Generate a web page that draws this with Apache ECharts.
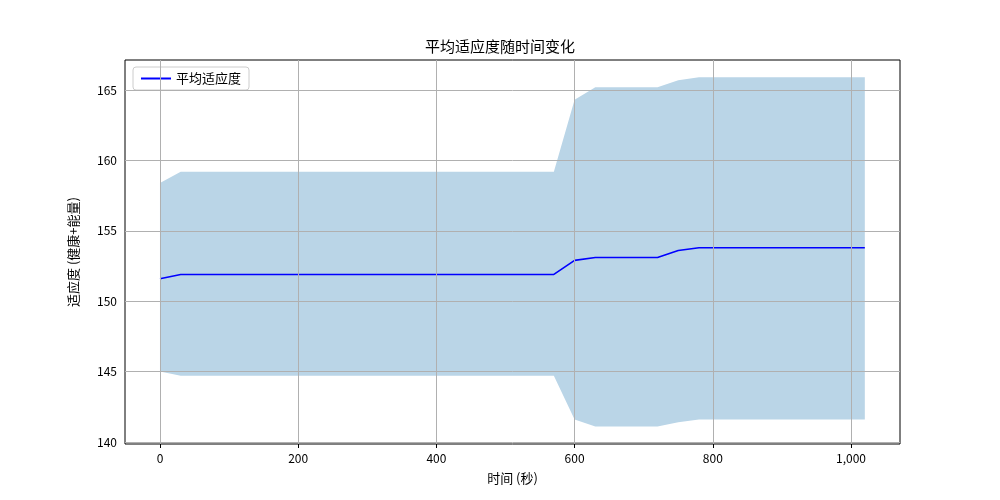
<!DOCTYPE html>
<html>
<head>
<meta charset="utf-8">
<script src="https://cdn.jsdelivr.net/npm/echarts@6/dist/echarts.min.js"></script>
<style>html,body{margin:0;background:#fff}#c{width:1000px;height:500px}</style>
</head>
<body>
<div id="c"></div>
<script>
// time in seconds, every 30 s
const times = [0,30,60,90,120,150,180,210,240,270,300,330,360,390,420,450,480,510,540,570,600,630,660,690,720,750,780,810,840,870,900,930,960,990,1020];
const meanFit = [151.6,151.9,151.9,151.9,151.9,151.9,151.9,151.9,151.9,151.9,151.9,151.9,151.9,151.9,151.9,151.9,151.9,151.9,151.9,151.9,152.9,153.1,153.1,153.1,153.1,153.6,153.8,153.8,153.8,153.8,153.8,153.8,153.8,153.8,153.8];
const upperFit = [158.4,159.2,159.2,159.2,159.2,159.2,159.2,159.2,159.2,159.2,159.2,159.2,159.2,159.2,159.2,159.2,159.2,159.2,159.2,159.2,164.3,165.2,165.2,165.2,165.2,165.7,165.9,165.9,165.9,165.9,165.9,165.9,165.9,165.9,165.9];
const lowerFit = [145.0,144.7,144.7,144.7,144.7,144.7,144.7,144.7,144.7,144.7,144.7,144.7,144.7,144.7,144.7,144.7,144.7,144.7,144.7,144.7,141.6,141.1,141.1,141.1,141.1,141.4,141.6,141.6,141.6,141.6,141.6,141.6,141.6,141.6,141.6];
const xTicks = [0, 200, 400, 600, 800, 1000];
const yTicks = [140, 145, 150, 155, 160, 165];

const font = '"Noto Sans CJK SC", sans-serif';
const chart = echarts.init(document.getElementById('c'));
chart.setOption({
    animation: false,
    title: {text: '平均适应度随时间变化', left: 'center', top: 34, textStyle: {fontFamily: font, fontSize: 15, fontWeight: 'normal', color: '#000'}},
    legend: {
        data: ['平均适应度'], left: 133, top: 67, orient: 'vertical',
        borderColor: '#ccc', borderWidth: 1, borderRadius: 3, padding: [5, 8],
        itemWidth: 30, itemHeight: 2, icon: 'rect',
        textStyle: {fontFamily: font, fontSize: 13, color: '#000'}
    },
    grid: {left: 125, right: 100, top: 60, bottom: 56, show: true, borderColor: '#000', borderWidth: 1},
    xAxis: {
        type: 'value', min: -50.6, max: 1070.9,
        name: '时间 (秒)', nameLocation: 'middle', nameGap: 28,
        nameTextStyle: {fontFamily: font, fontSize: 13, color: '#000'},
        axisLine: {show: false},
        axisLabel: {fontFamily: font, fontSize: 12, color: '#000', customValues: xTicks},
        axisTick: {customValues: xTicks, length: 4, lineStyle: {color: '#000'}},
        splitLine: {show: false}
    },
    yAxis: {
        type: 'value', min: 139.86, max: 167.13,
        name: '适应度 (健康+能量)', nameLocation: 'middle', nameGap: 45, nameRotate: 90,
        nameTextStyle: {fontFamily: font, fontSize: 13, color: '#000'},
        axisLine: {show: false},
        axisLabel: {fontFamily: font, fontSize: 12, color: '#000', customValues: yTicks},
        axisTick: {customValues: yTicks, length: 4, lineStyle: {color: '#000'}},
        splitLine: {show: false}
    },
    series: [
        {
            name: 'band', type: 'custom', silent: true,
            data: [0],
            renderItem: function (params, api) {
                let pts = times.map((t, i) => api.coord([t, upperFit[i]]));
                for (let i = times.length - 1; i >= 0; i--) pts.push(api.coord([times[i], lowerFit[i]]));
                return {type: 'polygon', shape: {points: pts}, style: {fill: '#bad5e7'}};
            }
        },
        {
            name: 'grid', type: 'line', data: [], silent: true,
            markLine: {
                symbol: 'none', silent: true, label: {show: false}, lineStyle: {color: '#b0b0b0', type: 'solid', width: 1},
                data: xTicks.map(v => ({xAxis: v})).concat(yTicks.map(v => ({yAxis: v})))
            }
        },
        {
            name: '平均适应度', type: 'line', symbol: 'none', color: '#0000ff',
            data: times.map((t, i) => [t, meanFit[i]]), lineStyle: {color: '#0000ff', width: 1.6}
        }
    ]
});
</script>
</body>
</html>
